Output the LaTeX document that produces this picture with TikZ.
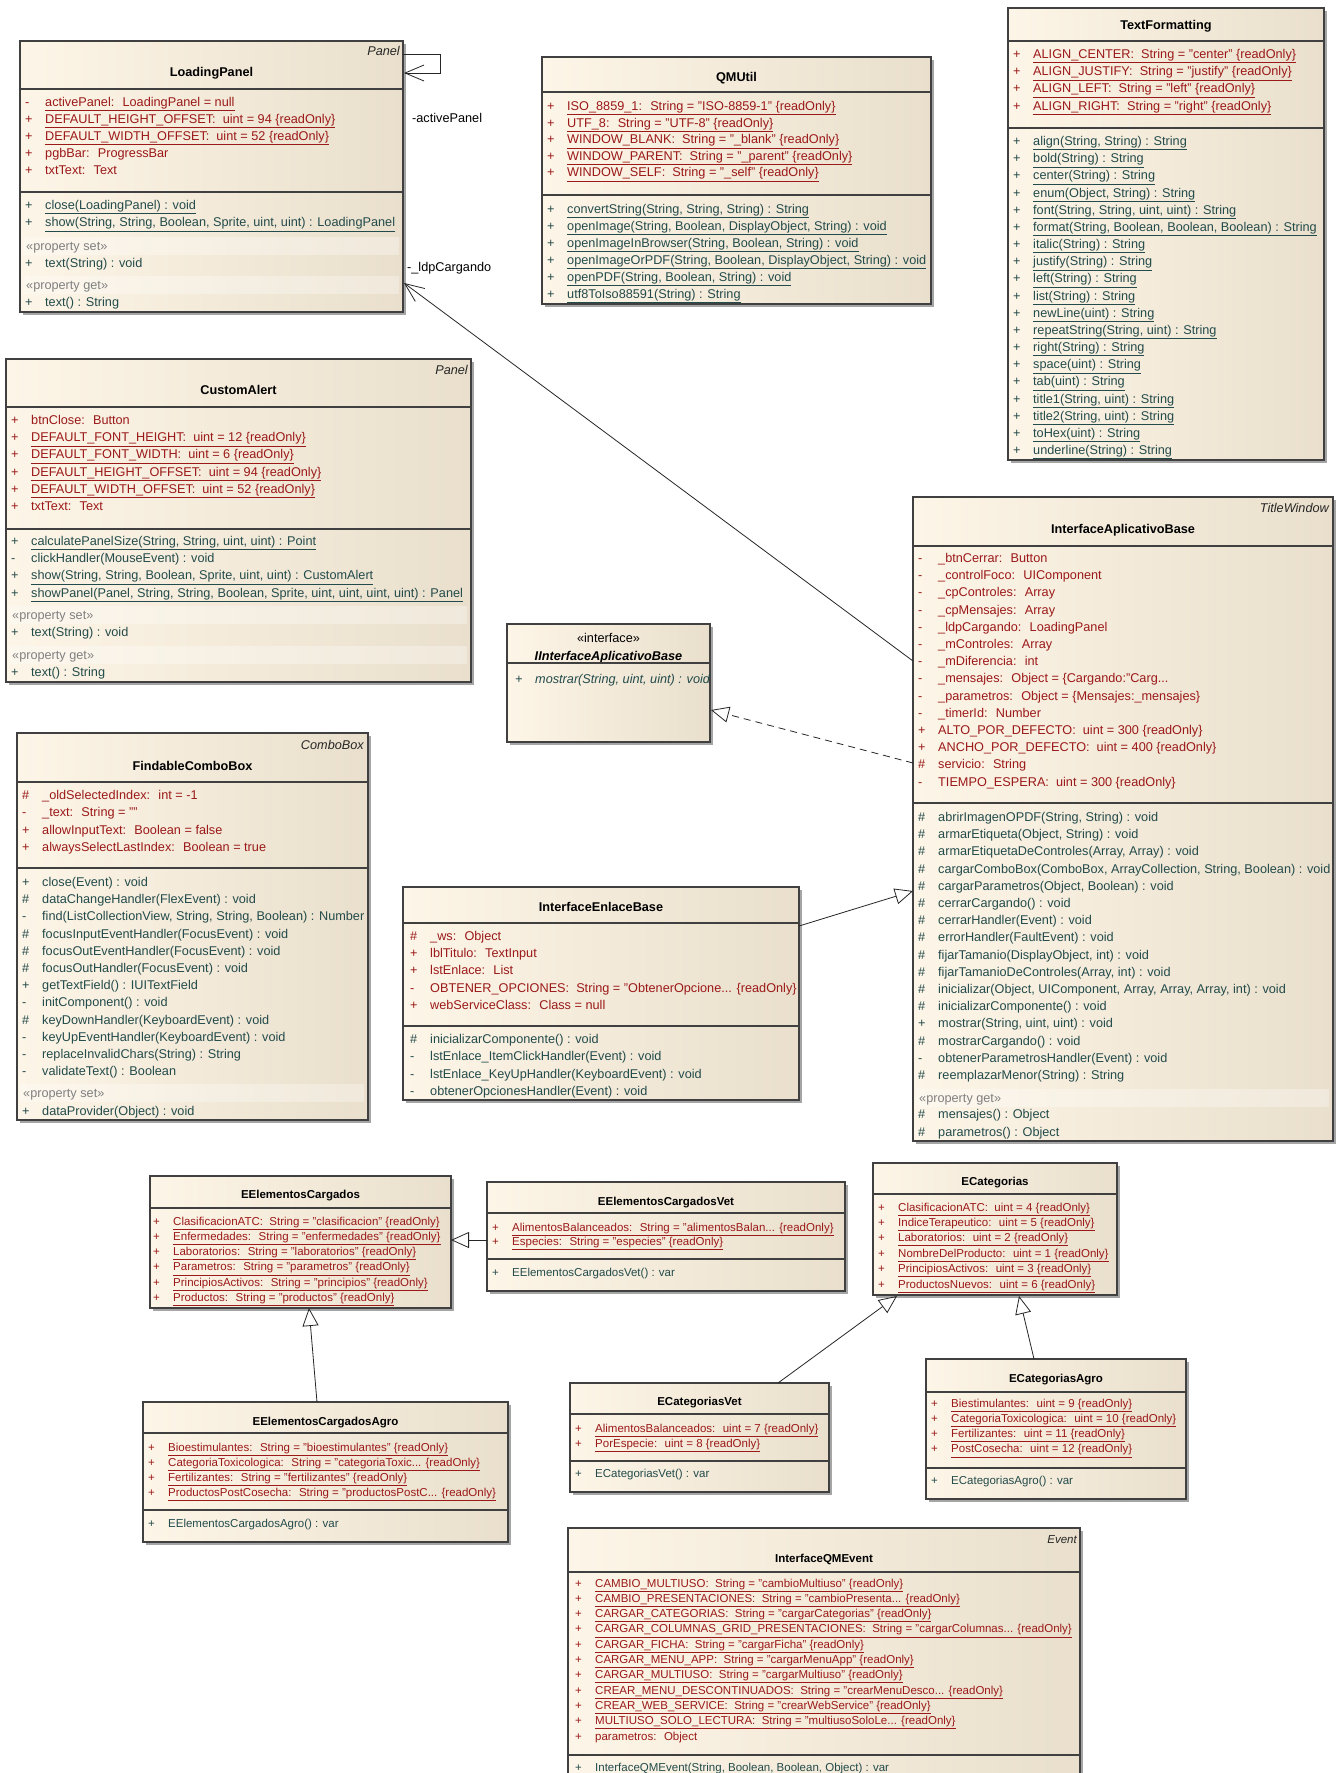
\documentclass[tikz,border=0pt]{standalone}
\usepackage{fontspec}
\setmainfont{Liberation Sans}
\usetikzlibrary{arrows.meta}
\definecolor{boxL}{RGB}{253,245,231}
\definecolor{boxR}{RGB}{233,223,204}
\definecolor{bordc}{RGB}{64,64,64}
\definecolor{attc}{RGB}{155,25,25}
\definecolor{opc}{RGB}{35,75,75}
\definecolor{propc}{RGB}{128,128,128}
\definecolor{shadc}{RGB}{165,165,165}
\newcounter{nn}
\newcommand\topf{\fontsize{12.7}{15}\selectfont}
\newcommand\botf{\fontsize{11.5}{14}\selectfont}
\let\curf\topf
\tikzset{
 clsbox/.style={draw=bordc, line width=1.1pt, left color=boxL, right color=boxR, inner sep=0pt, outer sep=0pt},
 shadowc/.style={fill=shadc},
 sepline/.style={draw=bordc, line width=1.1pt},
 atxt/.style={anchor=base west, inner sep=0pt, text=attc, font=\curf},
 otxt/.style={anchor=base west, inner sep=0pt, text=opc, font=\curf},
 oitxt/.style={anchor=base west, inner sep=0pt, text=opc, font=\curf\itshape},
 ptxt/.style={anchor=base west, inner sep=0pt, text=propc, font=\curf},
 ntxt/.style={anchor=base, inner sep=0pt, text=black, font=\curf\bfseries},
 ctxt/.style={anchor=base, inner sep=0pt, text=black, font=\curf},
 stxt/.style={anchor=base east, inner sep=0pt, text=black!85, font=\curf\itshape},
 lbl/.style={anchor=base west, inner sep=0pt, text=black, font=\curf},
 propband/.style={fill=white, fill opacity=0.3},
 conn/.style={draw=black!85, line width=0.8pt},
 gen/.style={conn, -{Triangle[open, length=18pt, width=16pt]}},
 nav/.style={conn, -{Straight Barb[length=19pt, width=16pt]}},
}
\newcommand\cls[5]{%
 \fill[shadowc] (#2+3,#3+3) rectangle (#4+3,#5+3);
 \node[clsbox, minimum width=#4-#2, minimum height=#5-#3, anchor=north west] (#1) at (#2,#3) {};}
\newcommand\cname[4]{\stepcounter{nn}\node[ntxt] (n\arabic{nn}) at ({(#1+#2)/2},#3) {#4};}
\newcommand\cster[3]{\stepcounter{nn}\node[stxt] (n\arabic{nn}) at (#1,#2) {#3};}
\newcommand\csep[3]{\draw[sepline] (#1,#3) -- (#2,#3);}
\newcommand\setrows[3]{\xdef\curx{#1}\xdef\cury{#2}\xdef\rstep{#3}}
\newcommand\rowitem[3]{%
 \stepcounter{nn}\node[#1] (n\arabic{nn}) at (\curx+5,\cury) {#2};%
 \stepcounter{nn}\node[#1] (n\arabic{nn}) at (\curx+25,\cury) {#3};%
 \pgfmathparse{\cury+\rstep}\xdef\cury{\pgfmathresult}}
\newcommand\At[2]{\rowitem{atxt}{#1}{#2}}
\newcommand\AtU[2]{\rowitem{atxt}{#1}{\underline{#2}}}
\newcommand\Op[2]{\rowitem{otxt}{#1}{#2}}
\newcommand\OpU[2]{\rowitem{otxt}{#1}{\underline{#2}}}
\newcommand\Prop[4]{%
 \fill[propband] (#1+3,#3-9) rectangle (#2-4,#3+9);
 \stepcounter{nn}\node[ptxt] (n\arabic{nn}) at (#1+6,#3+4.5) {#4};}
\begin{document}
\begin{tikzpicture}[x=1pt,y=-1pt]
\fill[white] (0,0) rectangle (1343,1773);
\useasboundingbox (0,0) rectangle (1343,1773);

% ---------------- LoadingPanel
\cls{LP}{20}{41}{403}{312}
\cster{400}{55.5}{Panel}
\cname{20}{403}{76.5}{LoadingPanel}
\csep{20}{403}{89}
\setrows{20}{106.5}{17}
\AtU{-}{activePanel:~ LoadingPanel = null}
\AtU{+}{DEFAULT\_HEIGHT\_OFFSET:~ uint = 94 \{readOnly\}}
\AtU{+}{DEFAULT\_WIDTH\_OFFSET:~ uint = 52 \{readOnly\}}
\At{+}{pgbBar:~ ProgressBar}
\At{+}{txtText:~ Text}
\csep{20}{403}{192}
\setrows{20}{209.5}{17.2}
\OpU{+}{close(LoadingPanel) : void}
\OpU{+}{show(String, String, Boolean, Sprite, uint, uint) : LoadingPanel}
\Prop{20}{403}{246}{«property set»}
\setrows{20}{267.5}{17}
\Op{+}{text(String) : void}
\Prop{20}{403}{285}{«property get»}
\setrows{20}{306.5}{17}
\Op{+}{text() : String}

% ---------------- QMUtil
\cls{QM}{542}{57}{931}{304}
\cname{542}{931}{81.5}{QMUtil}
\csep{542}{931}{92}
\setrows{542}{110.5}{16.6}
\AtU{+}{ISO\_8859\_1:~ String = "ISO-8859-1" \{readOnly\}}
\AtU{+}{UTF\_8:~ String = "UTF-8" \{readOnly\}}
\AtU{+}{WINDOW\_BLANK:~ String = "\_blank" \{readOnly\}}
\AtU{+}{WINDOW\_PARENT:~ String = "\_parent" \{readOnly\}}
\AtU{+}{WINDOW\_SELF:~ String = "\_self" \{readOnly\}}
\csep{542}{931}{195}
\setrows{542}{213.5}{17}
\OpU{+}{convertString(String, String, String) : String}
\OpU{+}{openImage(String, Boolean, DisplayObject, String) : void}
\OpU{+}{openImageInBrowser(String, Boolean, String) : void}
\OpU{+}{openImageOrPDF(String, Boolean, DisplayObject, String) : void}
\OpU{+}{openPDF(String, Boolean, String) : void}
\OpU{+}{utf8ToIso88591(String) : String}

% ---------------- TextFormatting
\cls{TF}{1008}{8}{1324}{460}
\cname{1008}{1324}{29.5}{TextFormatting}
\csep{1008}{1324}{41}
\setrows{1008}{58.5}{17.2}
\AtU{+}{ALIGN\_CENTER:~ String = "center" \{readOnly\}}
\AtU{+}{ALIGN\_JUSTIFY:~ String = "justify" \{readOnly\}}
\AtU{+}{ALIGN\_LEFT:~ String = "left" \{readOnly\}}
\AtU{+}{ALIGN\_RIGHT:~ String = "right" \{readOnly\}}
\csep{1008}{1324}{128}
\setrows{1008}{145.5}{17.17}
\OpU{+}{align(String, String) : String}
\OpU{+}{bold(String) : String}
\OpU{+}{center(String) : String}
\OpU{+}{enum(Object, String) : String}
\OpU{+}{font(String, String, uint, uint) : String}
\OpU{+}{format(String, Boolean, Boolean, Boolean) : String}
\OpU{+}{italic(String) : String}
\OpU{+}{justify(String) : String}
\OpU{+}{left(String) : String}
\OpU{+}{list(String) : String}
\OpU{+}{newLine(uint) : String}
\OpU{+}{repeatString(String, uint) : String}
\OpU{+}{right(String) : String}
\OpU{+}{space(uint) : String}
\OpU{+}{tab(uint) : String}
\OpU{+}{title1(String, uint) : String}
\OpU{+}{title2(String, uint) : String}
\OpU{+}{toHex(uint) : String}
\OpU{+}{underline(String) : String}

% ---------------- CustomAlert
\cls{CA}{6}{359}{471}{682}
\cster{468}{374.5}{Panel}
\cname{6}{471}{394.5}{CustomAlert}
\csep{6}{471}{407}
\setrows{6}{424.5}{17.2}
\At{+}{btnClose:~ Button}
\AtU{+}{DEFAULT\_FONT\_HEIGHT:~ uint = 12 \{readOnly\}}
\AtU{+}{DEFAULT\_FONT\_WIDTH:~ uint = 6 \{readOnly\}}
\AtU{+}{DEFAULT\_HEIGHT\_OFFSET:~ uint = 94 \{readOnly\}}
\AtU{+}{DEFAULT\_WIDTH\_OFFSET:~ uint = 52 \{readOnly\}}
\At{+}{txtText:~ Text}
\csep{6}{471}{529}
\setrows{6}{545.5}{17.2}
\OpU{+}{calculatePanelSize(String, String, uint, uint) : Point}
\Op{-}{clickHandler(MouseEvent) : void}
\OpU{+}{show(String, String, Boolean, Sprite, uint, uint) : CustomAlert}
\OpU{+}{showPanel(Panel, String, String, Boolean, Sprite, uint, uint, uint, uint) : Panel}
\Prop{6}{471}{615}{«property set»}
\setrows{6}{636.5}{17}
\Op{+}{text(String) : void}
\Prop{6}{471}{655}{«property get»}
\setrows{6}{676.5}{17}
\Op{+}{text() : String}

% ---------------- InterfaceAplicativoBase
\cls{IAB}{913}{497}{1333}{1141}
\cster{1329}{512.5}{TitleWindow}
\cname{913}{1333}{533.5}{InterfaceAplicativoBase}
\csep{913}{1333}{546}
\setrows{913}{562.5}{17.2}
\At{-}{\_btnCerrar:~ Button}
\At{-}{\_controlFoco:~ UIComponent}
\At{-}{\_cpControles:~ Array}
\At{-}{\_cpMensajes:~ Array}
\At{-}{\_ldpCargando:~ LoadingPanel}
\At{-}{\_mControles:~ Array}
\At{-}{\_mDiferencia:~ int}
\At{-}{\_mensajes:~ Object = \{Cargando:"Carg...}
\At{-}{\_parametros:~ Object = \{Mensajes:\_mensajes\}}
\At{-}{\_timerId:~ Number}
\At{+}{ALTO\_POR\_DEFECTO:~ uint = 300 \{readOnly\}}
\At{+}{ANCHO\_POR\_DEFECTO:~ uint = 400 \{readOnly\}}
\At{\#}{servicio:~ String}
\At{-}{TIEMPO\_ESPERA:~ uint = 300 \{readOnly\}}
\csep{913}{1333}{803}
\setrows{913}{821.5}{17.2}
\Op{\#}{abrirImagenOPDF(String, String) : void}
\Op{\#}{armarEtiqueta(Object, String) : void}
\Op{\#}{armarEtiquetaDeControles(Array, Array) : void}
\Op{\#}{cargarComboBox(ComboBox, ArrayCollection, String, Boolean) : void}
\Op{\#}{cargarParametros(Object, Boolean) : void}
\Op{\#}{cerrarCargando() : void}
\Op{\#}{cerrarHandler(Event) : void}
\Op{\#}{errorHandler(FaultEvent) : void}
\Op{\#}{fijarTamanio(DisplayObject, int) : void}
\Op{\#}{fijarTamanioDeControles(Array, int) : void}
\Op{\#}{inicializar(Object, UIComponent, Array, Array, Array, int) : void}
\Op{\#}{inicializarComponente() : void}
\Op{+}{mostrar(String, uint, uint) : void}
\Op{\#}{mostrarCargando() : void}
\Op{-}{obtenerParametrosHandler(Event) : void}
\Op{\#}{reemplazarMenor(String) : String}
\Prop{913}{1333}{1098}{«property get»}
\setrows{913}{1118.5}{17.5}
\Op{\#}{mensajes() : Object}
\Op{\#}{parametros() : Object}

% ---------------- FindableComboBox
\cls{FCB}{17}{733}{368}{1120}
\cster{364}{749.5}{ComboBox}
\cname{17}{368}{770.5}{FindableComboBox}
\csep{17}{368}{782}
\setrows{17}{799.5}{17.3}
\At{\#}{\_oldSelectedIndex:~ int = -1}
\At{-}{\_text:~ String = ""}
\At{+}{allowInputText:~ Boolean = false}
\At{+}{alwaysSelectLastIndex:~ Boolean = true}
\csep{17}{368}{868}
\setrows{17}{886.5}{17.2}
\Op{+}{close(Event) : void}
\Op{\#}{dataChangeHandler(FlexEvent) : void}
\Op{-}{find(ListCollectionView, String, String, Boolean) : Number}
\Op{\#}{focusInputEventHandler(FocusEvent) : void}
\Op{\#}{focusOutEventHandler(FocusEvent) : void}
\Op{\#}{focusOutHandler(FocusEvent) : void}
\Op{+}{getTextField() : IUITextField}
\Op{-}{initComponent() : void}
\Op{\#}{keyDownHandler(KeyboardEvent) : void}
\Op{-}{keyUpEventHandler(KeyboardEvent) : void}
\Op{-}{replaceInvalidChars(String) : String}
\Op{-}{validateText() : Boolean}
\Prop{17}{368}{1093}{«property set»}
\setrows{17}{1115.5}{17}
\Op{+}{dataProvider(Object) : void}

% ---------------- IInterfaceAplicativoBase
\cls{IIAB}{507}{624}{710}{742}
\stepcounter{nn}\node[ctxt] (n\arabic{nn}) at (608.5,642) {«interface»};
\cname{507}{710}{660.5}{\itshape IInterfaceAplicativoBase}
\csep{507}{710}{663}
\setrows{510}{683.5}{17}
\rowitem{oitxt}{+}{mostrar(String, uint, uint) : void}

% ---------------- InterfaceEnlaceBase
\cls{IEB}{403}{887}{799}{1100}
\cname{403}{799}{911.5}{InterfaceEnlaceBase}
\csep{403}{799}{923}
\setrows{405}{940.5}{17.2}
\At{\#}{\_ws:~ Object}
\At{+}{lblTitulo:~ TextInput}
\At{+}{lstEnlace:~ List}
\At{-}{OBTENER\_OPCIONES:~ String = "ObtenerOpcione... \{readOnly\}}
\At{+}{webServiceClass:~ Class = null}
\csep{403}{799}{1026}
\setrows{405}{1043.5}{17.3}
\Op{\#}{inicializarComponente() : void}
\Op{-}{lstEnlace\_ItemClickHandler(Event) : void}
\Op{-}{lstEnlace\_KeyUpHandler(KeyboardEvent) : void}
\Op{-}{obtenerOpcionesHandler(Event) : void}

% labels of top connectors (top font)
\stepcounter{nn}\node[lbl] (n\arabic{nn}) at (412,122) {-activePanel};
\stepcounter{nn}\node[lbl] (n\arabic{nn}) at (407,271) {-\_ldpCargando};

% ================= bottom classes, smaller font
\let\curf\botf

% ---------------- EElementosCargados
\cls{EEC}{150}{1176}{451}{1308}
\cname{150}{451}{1198}{EElementosCargados}
\csep{150}{451}{1208}
\setrows{148}{1225}{15.3}
\AtU{+}{ClasificacionATC:~ String = "clasificacion" \{readOnly\}}
\AtU{+}{Enfermedades:~ String = "enfermedades" \{readOnly\}}
\AtU{+}{Laboratorios:~ String = "laboratorios" \{readOnly\}}
\AtU{+}{Parametros:~ String = "parametros" \{readOnly\}}
\AtU{+}{PrincipiosActivos:~ String = "principios" \{readOnly\}}
\AtU{+}{Productos:~ String = "productos" \{readOnly\}}

% ---------------- EElementosCargadosVet
\cls{EECV}{487}{1182}{845}{1291}
\cname{487}{845}{1205}{EElementosCargadosVet}
\csep{487}{845}{1213}
\setrows{487}{1231}{14.7}
\AtU{+}{AlimentosBalanceados:~ String = "alimentosBalan... \{readOnly\}}
\AtU{+}{Especies:~ String = "especies" \{readOnly\}}
\csep{487}{845}{1259}
\setrows{487}{1276}{15}
\Op{+}{EElementosCargadosVet() : var}

% ---------------- ECategorias
\cls{EC}{873}{1163}{1117}{1295}
\cname{873}{1117}{1185}{ECategorias}
\csep{873}{1117}{1194}
\setrows{873}{1211}{15.4}
\AtU{+}{ClasificacionATC:~ uint = 4 \{readOnly\}}
\AtU{+}{IndiceTerapeutico:~ uint = 5 \{readOnly\}}
\AtU{+}{Laboratorios:~ uint = 2 \{readOnly\}}
\AtU{+}{NombreDelProducto:~ uint = 1 \{readOnly\}}
\AtU{+}{PrincipiosActivos:~ uint = 3 \{readOnly\}}
\AtU{+}{ProductosNuevos:~ uint = 6 \{readOnly\}}

% ---------------- EElementosCargadosAgro
\cls{EECA}{143}{1402}{508}{1542}
\cname{143}{508}{1425}{EElementosCargadosAgro}
\csep{143}{508}{1433}
\setrows{143}{1451}{15}
\AtU{+}{Bioestimulantes:~ String = "bioestimulantes" \{readOnly\}}
\AtU{+}{CategoriaToxicologica:~ String = "categoriaToxic... \{readOnly\}}
\AtU{+}{Fertilizantes:~ String = "fertilizantes" \{readOnly\}}
\AtU{+}{ProductosPostCosecha:~ String = "productosPostC... \{readOnly\}}
\csep{143}{508}{1510}
\setrows{143}{1527}{15}
\Op{+}{EElementosCargadosAgro() : var}

% ---------------- ECategoriasVet
\cls{ECV}{570}{1383}{829}{1492}
\cname{570}{829}{1405}{ECategoriasVet}
\csep{570}{829}{1414}
\setrows{570}{1432}{15}
\AtU{+}{AlimentosBalanceados:~ uint = 7 \{readOnly\}}
\AtU{+}{PorEspecie:~ uint = 8 \{readOnly\}}
\csep{570}{829}{1461}
\setrows{570}{1477}{15}
\Op{+}{ECategoriasVet() : var}

% ---------------- ECategoriasAgro
\cls{ECA}{926}{1359}{1186}{1499}
\cname{926}{1186}{1382}{ECategoriasAgro}
\csep{926}{1186}{1392}
\setrows{926}{1407}{15.3}
\AtU{+}{Biestimulantes:~ uint = 9 \{readOnly\}}
\AtU{+}{CategoriaToxicologica:~ uint = 10 \{readOnly\}}
\AtU{+}{Fertilizantes:~ uint = 11 \{readOnly\}}
\AtU{+}{PostCosecha:~ uint = 12 \{readOnly\}}
\csep{926}{1186}{1468}
\setrows{926}{1484}{15}
\Op{+}{ECategoriasAgro() : var}

% ---------------- InterfaceQMEvent
\cls{QME}{568}{1528}{1080}{1790}
\cster{1077}{1543}{Event}
\cname{568}{1080}{1562}{InterfaceQMEvent}
\csep{568}{1080}{1572}
\setrows{570}{1587}{15.3}
\AtU{+}{CAMBIO\_MULTIUSO:~ String = "cambioMultiuso" \{readOnly\}}
\AtU{+}{CAMBIO\_PRESENTACIONES:~ String = "cambioPresenta... \{readOnly\}}
\AtU{+}{CARGAR\_CATEGORIAS:~ String = "cargarCategorias" \{readOnly\}}
\AtU{+}{CARGAR\_COLUMNAS\_GRID\_PRESENTACIONES:~ String = "cargarColumnas... \{readOnly\}}
\AtU{+}{CARGAR\_FICHA:~ String = "cargarFicha" \{readOnly\}}
\AtU{+}{CARGAR\_MENU\_APP:~ String = "cargarMenuApp" \{readOnly\}}
\AtU{+}{CARGAR\_MULTIUSO:~ String = "cargarMultiuso" \{readOnly\}}
\AtU{+}{CREAR\_MENU\_DESCONTINUADOS:~ String = "crearMenuDesco... \{readOnly\}}
\AtU{+}{CREAR\_WEB\_SERVICE:~ String = "crearWebService" \{readOnly\}}
\AtU{+}{MULTIUSO\_SOLO\_LECTURA:~ String = "multiusoSoloLe... \{readOnly\}}
\At{+}{parametros:~ Object}
\csep{568}{1080}{1755}
\setrows{570}{1771}{15}
\Op{+}{InterfaceQMEvent(String, Boolean, Boolean, Object) : var}

% ================= connectors
\coordinate (lpSa) at (403,54);
\coordinate (lpSk) at (440,73);
\coordinate (lpSd) at (404,73);
\coordinate (lpE1) at (404,283);
\coordinate (iabW1) at (913,661);
\coordinate (iabW2) at (913,763);
\coordinate (iiabE) at (711,710);
\coordinate (iebE) at (799,926);
\coordinate (iabW3) at (913,891);
\coordinate (eecvW) at (487,1240);
\coordinate (eecE) at (451,1240);
\coordinate (eecaN) at (317,1402);
\coordinate (eecS) at (309,1308);
\coordinate (ecvN) at (778,1383);
\coordinate (ecS1) at (897,1296);
\coordinate (ecaN) at (1034,1359);
\coordinate (ecS2) at (1019,1296);

\draw[nav] (lpSa) -| (lpSk) -- (lpSd);
\draw[nav] (iabW1) -- (lpE1);
\draw[gen, dash pattern=on 7pt off 5pt] (iabW2) -- (iiabE);
\draw[gen] (iebE) -- (iabW3);
\draw[gen] (eecvW) -- (eecE);
\draw[gen] (eecaN) -- (eecS);
\draw[gen] (ecvN) -- (ecS1);
\draw[gen] (ecaN) -- (ecS2);
\end{tikzpicture}
\end{document}
